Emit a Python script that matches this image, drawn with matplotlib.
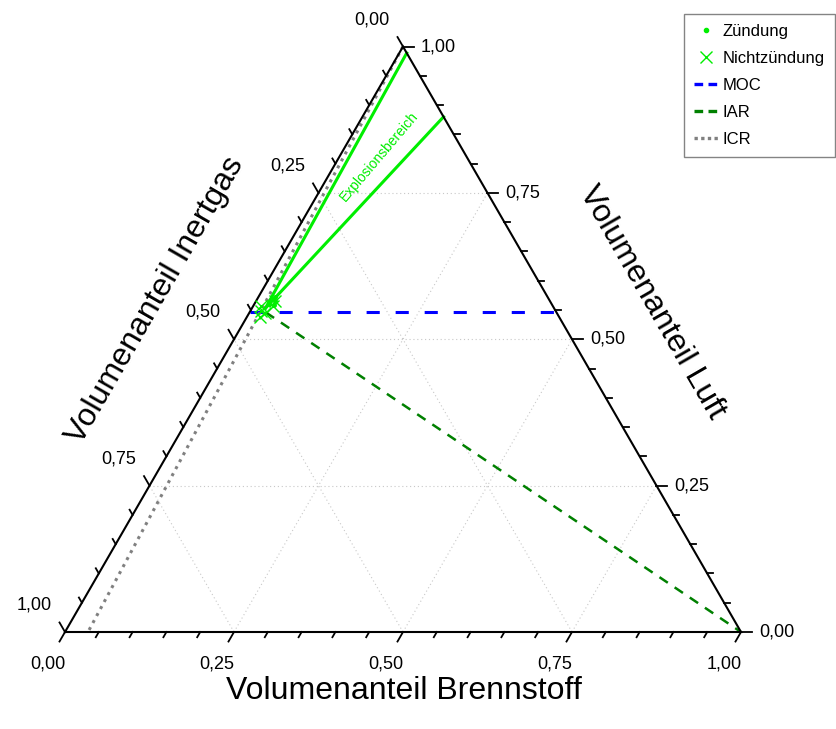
import numpy as np
import matplotlib
matplotlib.use("Agg")
import matplotlib.pyplot as plt
from matplotlib.lines import Line2D

plt.rcParams['font.family'] = ['Liberation Sans', 'DejaVu Sans']

S3 = np.sqrt(3) / 2

# Explosionsbereich: Spitze und Explosionsgrenzen (Brennstoff, Luft)
apex = (0.020, 0.553)
lel_end = (0.011, 0.989)
uel_end = (0.120, 0.880)

# Messpunkte (Brennstoff, Luft)
zuend_f = [0.022, 0.027, 0.030, 0.025]
zuend_a = [0.560, 0.566, 0.558, 0.572]
nicht_f = [0.016, 0.024, 0.030, 0.020, 0.028, 0.012]
nicht_a = [0.548, 0.545, 0.556, 0.538, 0.566, 0.556]

# Kennlinien (Brennstoff, Luft)
moc_f = [0.0, 0.453]
moc_a = [0.547, 0.547]
iar_f = [0.024, 1.0]
iar_a = [0.546, 0.0]
icr_f = [0.0, 0.034]
icr_a = [1.0, 0.0]

tick_vals = [0.0, 0.25, 0.5, 0.75, 1.0]
tick_labels = ['0,00', '0,25', '0,50', '0,75', '1,00']


def tern(f, a):
    f = np.asarray(f, dtype=float)
    a = np.asarray(a, dtype=float)
    return f + a / 2, a * S3


PX = 1 / 676.0  # one pixel in data units

fig = plt.figure(figsize=(8.37, 7.29), dpi=100)
ax = fig.add_axes([0, 0, 1, 1])
ax.set_xlim(-65 * PX, 772 * PX)
ax.set_ylim(-97 * PX, 632 * PX)
ax.axis('off')

# Gitterlinien
grid_kw = dict(color='#c8c8c8', lw=0.8, ls=(0, (1, 2.5)), zorder=1)
for v in [0.25, 0.5, 0.75]:
    ax.plot(*tern([0, 1 - v], [v, v]), **grid_kw)
    ax.plot(*tern([v, v], [0, 1 - v]), **grid_kw)
    ax.plot(*tern([1 - v, 0], [0, 1 - v]), **grid_kw)

# Dreieck
ax.plot(*tern([0, 1, 0, 0], [0, 0, 1, 0]), color='black', lw=1.5, zorder=5,
        solid_joinstyle='miter')

# Achsenstriche
for k in range(21):
    v = k * 0.05
    major = k % 5 == 0
    L = (11 if major else 6) * PX
    # unten: Brennstoff
    x0, y0 = tern(v, 0)
    ax.plot([x0, x0 - 0.5 * L], [y0, y0 - S3 * L], color='black', lw=1.3, zorder=5)
    # links: Inertgas (0 oben)
    x0, y0 = tern(0, 1 - v)
    ax.plot([x0, x0 - 0.5 * L], [y0, y0 + S3 * L], color='black', lw=1.3, zorder=5)
    # rechts: Luft
    x0, y0 = tern(1 - v, v)
    ax.plot([x0, x0 + L], [y0, y0], color='black', lw=1.3, zorder=5)

fs_tick = 13
for v, lab in zip(tick_vals, tick_labels):
    x0, y0 = tern(v, 0)
    ax.text(x0 - 17 * PX, y0 - 32 * PX, lab, fontsize=fs_tick, ha='center', va='center')
    x0, y0 = tern(0, 1 - v)
    ax.text(x0 - 31 * PX, y0 + 27 * PX, lab, fontsize=fs_tick, ha='center', va='center')
    x0, y0 = tern(1 - v, v)
    ax.text(x0 + 18 * PX, y0, lab, fontsize=fs_tick, ha='left', va='center')

# Achsentitel
fs_title = 23
ax.text((404 - 65) * PX, (632 - 691) * PX, 'Volumenanteil Brennstoff',
        fontsize=fs_title, ha='center', va='center')
ax.text((155 - 65) * PX, (632 - 300) * PX, 'Volumenanteil Inertgas',
        fontsize=fs_title, ha='center', va='center', rotation=60, rotation_mode='anchor')
ax.text((652 - 65) * PX, (632 - 302) * PX, 'Volumenanteil Luft',
        fontsize=fs_title, ha='center', va='center', rotation=-60, rotation_mode='anchor')

# Kennlinien
ax.plot(*tern(moc_f, moc_a), color='#0000ff', lw=2.2, dashes=(4.3, 5.2), zorder=3)
ax.plot(*tern(iar_f, iar_a), color='#008000', lw=1.8, dashes=(4.0, 3.3), zorder=3)
ax.plot(*tern(icr_f, icr_a), color='#808080', lw=2.2, dashes=(1.0, 1.6), zorder=3)

# Explosionsgrenzen
green = '#00ee00'
ax.plot(*tern([apex[0], lel_end[0]], [apex[1], lel_end[1]]), color=green, lw=2.2, zorder=4)
ax.plot(*tern([apex[0], uel_end[0]], [apex[1], uel_end[1]]), color=green, lw=2.2, zorder=4)

ax.plot(*tern(zuend_f, zuend_a), ls='none', marker='o', ms=2.5, color=green, zorder=6)
ax.plot(*tern(nicht_f, nicht_a), ls='none', marker='x', ms=8, mew=1.0, color=green, zorder=6)

ax.text((379 - 65) * PX, (632 - 156) * PX, 'Explosionsbereich', color=green,
        fontsize=10, ha='center', va='center', rotation=49.6, rotation_mode='anchor')

# Legende
handles = [
    Line2D([], [], ls='none', marker='o', ms=3, color=green),
    Line2D([], [], ls='none', marker='x', ms=9, mew=1.0, color=green),
    Line2D([], [], color='#0000ff', lw=2.4, dashes=(2.6, 1.6)),
    Line2D([], [], color='#008000', lw=2.4, dashes=(2.6, 1.6)),
    Line2D([], [], color='#808080', lw=2.4, dashes=(1.0, 1.0)),
]
labels = ['Zündung', 'Nichtzündung', 'MOC', 'IAR', 'ICR']
leg = fig.legend(handles, labels, loc='upper right', bbox_to_anchor=(835 / 837, 1 - 14 / 729),
                 fontsize=12, frameon=True, fancybox=False, handlelength=1.5,
                 handletextpad=0.25, labelspacing=0.72, borderpad=0.6, borderaxespad=0)
leg.get_frame().set_edgecolor('#666666')
leg.get_frame().set_linewidth(1.0)

fig.savefig('out.png', dpi=100)
